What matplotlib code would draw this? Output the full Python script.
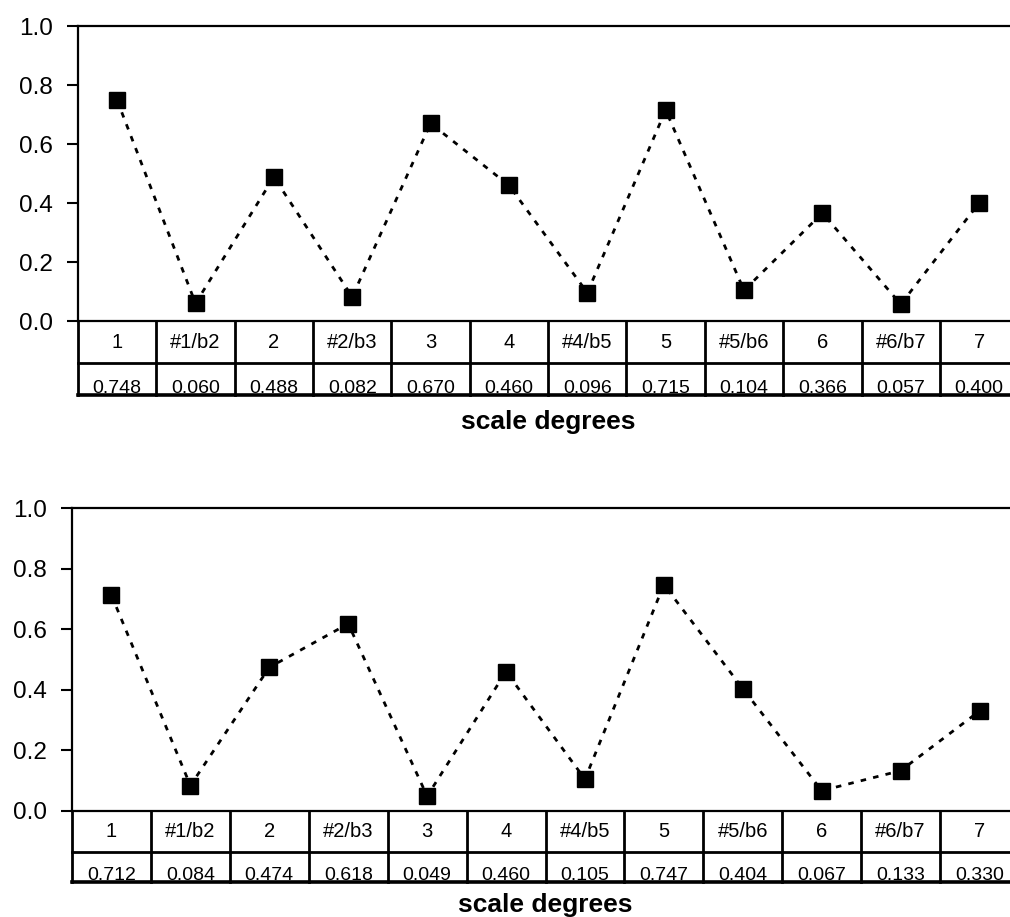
import matplotlib
matplotlib.use("Agg")
from matplotlib import pyplot as plt
from matplotlib.transforms import blended_transform_factory
import numpy as np

degrees = ["1", "#1/b2", "2", "#2/b3", "3", "4", "#4/b5", "5", "#5/b6", "6", "#6/b7", "7"]
top_values = [0.748, 0.060, 0.488, 0.082, 0.670, 0.460, 0.096, 0.715, 0.104, 0.366, 0.057, 0.400]
bottom_values = [0.712, 0.084, 0.474, 0.618, 0.049, 0.460, 0.105, 0.747, 0.404, 0.067, 0.133, 0.330]
yticks = [0.0, 0.2, 0.4, 0.6, 0.8, 1.0]

plt.rcParams["font.family"] = ["Liberation Sans", "DejaVu Sans"]


def draw_panel(ax, values, row1, row2, label_y):
    """ Profile line with a two-row table of degrees and values below. """
    n = len(values)
    x = np.arange(n) + 0.5
    ax.plot(x, values, color="black", linestyle=(0, (2.0, 2.6)), lw=2.0,
            marker="s", markersize=11, markerfacecolor="black",
            markeredgecolor="black", clip_on=False, zorder=3)
    ax.set_xlim(0, n)
    ax.set_ylim(0, 1.0)
    ax.set_yticks(yticks)
    ax.set_yticklabels([f"{v:.1f}" for v in yticks])
    ax.set_xticks([])
    ax.tick_params(axis="y", direction="out", length=8, width=1.5,
                   labelsize=17.5, pad=10)
    for s in ["left", "top", "bottom"]:
        ax.spines[s].set_linewidth(1.6)
    ax.spines["right"].set_visible(False)

    tr = blended_transform_factory(ax.transData, ax.transAxes)
    lw = 2.0
    for yy in (row1, row2):
        ax.plot([0, n], [yy, yy], color="black", lw=lw if yy == row1 else 2.6,
                transform=tr, clip_on=False, zorder=4)
    for i in range(n + 1):
        ax.plot([i, i], [0, row2], color="black", lw=lw, transform=tr,
                clip_on=False, zorder=4)
    for i in range(n):
        ax.text(i + 0.5, row1 / 2, degrees[i], transform=tr, ha="center",
                va="center", fontsize=14.5, clip_on=False)
        ax.text(i + 0.5, row2 + 0.006, f"{values[i]:.3f}", transform=tr,
                ha="center", va="baseline", fontsize=14, clip_on=False)
    ax.text(n / 2, label_y, "scale degrees", transform=tr, ha="center",
            va="center", fontsize=19, fontweight="bold")


fig = plt.figure(figsize=(10.1, 9.17), dpi=100)
ax1 = fig.add_axes([0.0772, 0.6499, 0.931, 0.3217])
ax2 = fig.add_axes([0.0713, 0.1156, 0.9376, 0.3304])

draw_panel(ax1, top_values, -0.1424, -0.2508, -0.342)
draw_panel(ax2, bottom_values, -0.1353, -0.2343, -0.310)

fig.savefig("out.png", dpi=100)
